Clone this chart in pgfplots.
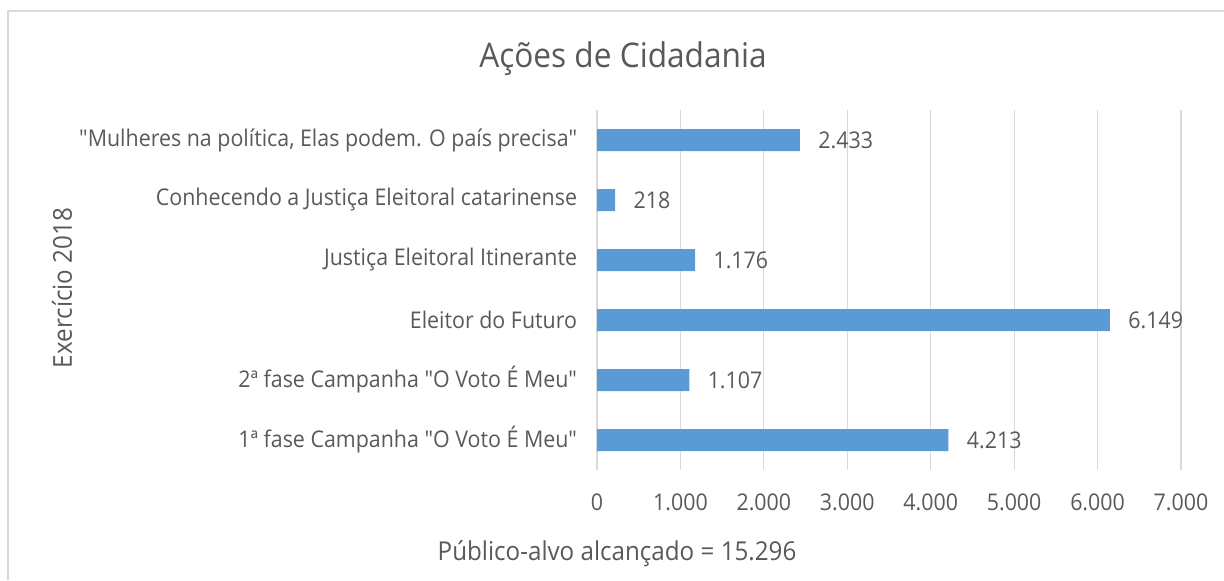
\documentclass[border=0pt]{standalone}
\usepackage{pgfplots}
\pgfplotsset{compat=1.18}
\usepackage{fontspec}
\setmainfont[FakeStretch=0.93, Ligatures=TeXOff]{Open Sans}
\definecolor{barblue}{HTML}{5B9BD5}
\definecolor{txt}{HTML}{595959}
\definecolor{gridc}{HTML}{D9D9D9}
\begin{document}
\begin{tikzpicture}
\useasboundingbox (0,0) rectangle (612pt,290pt);
\draw[gridc, line width=0.6pt] (4pt,0) -- (4pt,284.5pt) -- (612pt,284.5pt);
\node[text=txt, font=\fontsize{17}{19}\selectfont] at (311.5pt,260.5pt) {Ações de Cidadania};
\node[text=txt, font=\fontsize{13}{15}\selectfont, rotate=90] at (31pt,146pt) {Exercício 2018};
\node[text=txt, font=\fontsize{13}{15}\selectfont] at (308.5pt,13pt) {Público-alvo alcançado = 15.296};
\begin{axis}[
  at={(298.5pt,55pt)}, anchor=south west, scale only axis,
  width=292pt, height=180pt,
  xmin=0, xmax=7000, ymin=-0.5, ymax=5.5,
  xbar, bar width=11pt,
  axis line style={draw=none}, tick style={draw=none},
  xmajorgrids, grid style={gridc, line width=0.6pt},
  xtick={0,1000,2000,3000,4000,5000,6000,7000},
  xticklabels={0,1.000,2.000,3.000,4.000,5.000,6.000,7.000},
  ytick={0,1,2,3,4,5},
  yticklabels={{1ª fase Campanha "O Voto É Meu"},{2ª fase Campanha "O Voto É Meu"},{Eleitor do Futuro},{Justiça Eleitoral Itinerante},{Conhecendo a Justiça Eleitoral catarinense},{"Mulheres na política, Elas podem. O país precisa"}},
  ticklabel style={font=\fontsize{11.5}{13}\selectfont, text=txt},
  yticklabel style={inner sep=0pt, xshift=-5.5pt},
  xticklabel style={inner sep=0pt, yshift=-11.5pt},
  point meta=explicit symbolic,
  nodes near coords,
  nodes near coords style={anchor=west, inner sep=0pt, xshift=9pt, text=txt, font=\fontsize{11.5}{13}\selectfont},
]
\addplot[fill=barblue, draw=none] coordinates {
  (4213,0) [4.213]
  (1107,1) [1.107]
  (6149,2) [6.149]
  (1176,3) [1.176]
  (218,4) [218]
  (2433,5) [2.433]
};
\end{axis}
\end{tikzpicture}
\end{document}
